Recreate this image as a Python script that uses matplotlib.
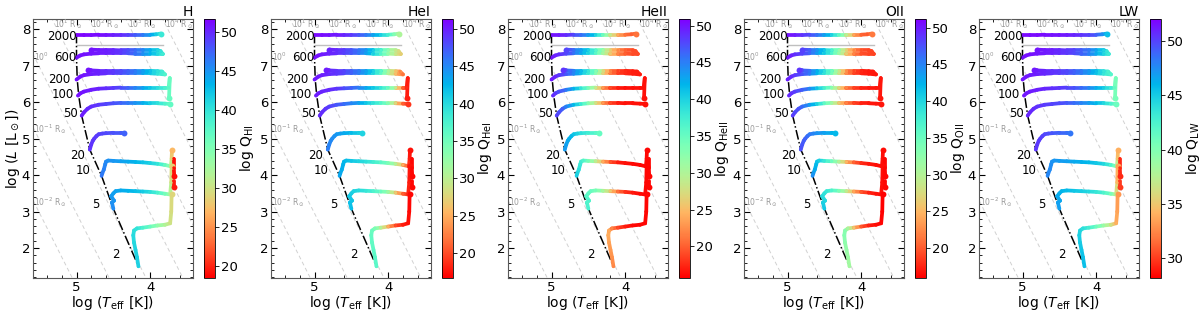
import numpy as np
import matplotlib.pyplot as plt
from matplotlib.collections import LineCollection
from matplotlib.colors import Normalize
from matplotlib.cm import ScalarMappable
from matplotlib.ticker import MultipleLocator

species = ["H", "HeI", "HeII", "OII", "LW"]
cbar_labels = [r"log Q$_{\rm HI}$", r"log Q$_{\rm HeI}$", r"log Q$_{\rm HeII}$",
               r"log Q$_{\rm OII}$", r"log Q$_{\rm LW}$"]
q_limits = [(18.4, 51.7), (16.7, 51.3), (15.7, 50.9), (15.9, 51.2), (28.2, 52.0)]

masses = ["2000", "600", "200", "100", "50", "20", "10", "5", "2"]
mass_label_T = [5.00, 5.00, 5.08, 5.03, 4.98, 4.88, 4.81, 4.69, 4.42]
mass_label_L = [7.80, 7.22, 6.62, 6.22, 5.68, 4.55, 4.12, 3.20, 1.82]

# evolutionary tracks: 2000, 600, 200, 100, 50, 20, 10, 5, 2 Msun, plus two RSG pieces
track_logT = [
    [5.00, 4.90, 4.80, 4.70, 4.60, 4.50, 4.40, 4.30, 4.20, 4.10, 4.00, 3.92, 3.86],
    [5.00, 4.95, 4.90, 4.80, 4.70, 4.60, 4.50, 4.40, 4.30, 4.20, 4.10, 4.00, 3.90, 3.83,
     3.86, 3.90, 4.00, 4.10, 4.20, 4.30, 4.40, 4.50, 4.60, 4.70, 4.80],
    [5.00, 4.95, 4.90, 4.80, 4.70, 4.60, 4.50, 4.40, 4.30, 4.20, 4.10, 4.00, 3.90, 3.80,
     3.84, 3.90, 4.00, 4.10, 4.20, 4.30, 4.40, 4.50, 4.60, 4.70, 4.80, 4.85],
    [4.98, 4.95, 4.90, 4.80, 4.70, 4.60, 4.50, 4.40, 4.30, 4.20, 4.10, 4.00, 3.90, 3.80,
     3.75, 3.735, 3.745],
    [4.93, 4.90, 4.85, 4.80, 4.70, 4.60, 4.50, 4.40, 4.30, 4.20, 4.10, 4.00, 3.90, 3.80, 3.73],
    [4.82, 4.80, 4.78, 4.76, 4.73, 4.70, 4.65, 4.60, 4.50, 4.40, 4.35],
    [4.66, 4.65, 4.63, 4.61, 4.60, 4.57, 4.50, 4.40, 4.30, 4.20, 4.10, 4.00, 3.90, 3.80,
     3.72, 3.71, 3.705],
    [4.50, 4.52, 4.49, 4.53, 4.50, 4.47, 4.40, 4.30, 4.20, 4.10, 4.00, 3.90, 3.80, 3.73,
     3.715, 3.71],
    [4.16, 4.18, 4.20, 4.22, 4.23, 4.22, 4.18, 4.10, 4.00, 3.90, 3.80, 3.73, 3.715, 3.71],
    [3.68, 3.68, 3.675],
    [3.68, 3.68],
]
track_logL = [
    [7.84, 7.84, 7.84, 7.85, 7.85, 7.85, 7.85, 7.85, 7.85, 7.85, 7.85, 7.86, 7.88],
    [7.22, 7.28, 7.31, 7.33, 7.34, 7.34, 7.34, 7.34, 7.34, 7.33, 7.33, 7.33, 7.32, 7.32,
     7.40, 7.42, 7.42, 7.42, 7.42, 7.42, 7.42, 7.43, 7.43, 7.43, 7.44],
    [6.62, 6.70, 6.74, 6.77, 6.78, 6.79, 6.79, 6.79, 6.79, 6.79, 6.79, 6.79, 6.78, 6.76,
     6.84, 6.85, 6.86, 6.86, 6.86, 6.86, 6.86, 6.86, 6.86, 6.86, 6.87, 6.87],
    [6.18, 6.24, 6.29, 6.34, 6.37, 6.38, 6.39, 6.40, 6.40, 6.40, 6.40, 6.40, 6.40, 6.40,
     6.40, 6.66, 6.12],
    [5.63, 5.72, 5.82, 5.88, 5.93, 5.95, 5.97, 5.98, 5.98, 5.98, 5.98, 5.97, 5.97, 5.96, 5.95],
    [4.70, 4.84, 4.94, 5.00, 5.07, 5.12, 5.14, 5.15, 5.16, 5.16, 5.15],
    [3.98, 4.05, 4.15, 4.30, 4.37, 4.40, 4.39, 4.38, 4.37, 4.36, 4.35, 4.33, 4.31, 4.28,
     4.24, 4.45, 4.68],
    [3.08, 3.25, 3.30, 3.42, 3.50, 3.56, 3.58, 3.57, 3.56, 3.55, 3.54, 3.52, 3.49, 3.47,
     3.80, 4.24],
    [1.50, 1.75, 1.95, 2.15, 2.35, 2.48, 2.54, 2.56, 2.59, 2.62, 2.64, 2.68, 3.00, 3.47],
    [4.45, 4.20, 3.98],
    [3.83, 3.68],
]

Q_H = [
    [51.5, 51.5, 51.3, 51.2, 51.0, 50.5, 50.0, 49.0, 48.0, 46.5, 44.5, 42.0, 39.5],
    [51.0, 51.0, 51.0, 50.8, 50.6, 50.3, 50.0, 49.3, 48.3, 47.0, 45.5, 43.5, 41.0, 39.0,
     40.0, 41.0, 43.5, 45.5, 47.0, 48.3, 49.3, 50.0, 50.3, 50.6, 50.8],
    [51.0, 51.0, 50.8, 50.5, 50.2, 49.8, 49.3, 48.5, 47.5, 46.2, 44.5, 42.5, 40.0, 38.0,
     39.0, 40.0, 42.5, 44.5, 46.2, 47.5, 48.5, 49.3, 49.8, 50.2, 50.5, 50.8],
    [51.0, 51.0, 50.8, 50.5, 50.2, 49.8, 49.3, 48.5, 47.5, 46.0, 44.5, 42.5, 40.5, 38.5,
     37.5, 36.5, 36.5],
    [50.5, 50.3, 50.0, 49.8, 49.3, 48.8, 48.2, 47.5, 46.5, 45.3, 43.8, 42.0, 40.3, 38.3, 37.0],
    [49.5, 49.5, 49.4, 49.3, 49.2, 49.0, 48.8, 48.6, 48.2, 47.8, 47.5],
    [46.5, 46.3, 46.0, 45.8, 45.6, 45.3, 45.0, 44.5, 44.0, 43.3, 42.5, 41.5, 40.0, 37.0,
     33.0, 29.0, 27.0],
    [45.5, 45.3, 45.0, 44.8, 44.5, 44.3, 44.0, 43.5, 42.8, 42.0, 40.5, 38.5, 36.0, 33.0,
     30.0, 28.5],
    [41.5, 41.5, 41.3, 41.0, 40.8, 40.5, 40.0, 38.5, 36.5, 34.0, 32.0, 30.0, 29.5, 29.0],
    [19.0, 19.0, 19.0],
    [19.5, 19.5],
]
Q_HeI = [
    [50.8, 50.8, 50.5, 50.2, 49.8, 49.0, 47.5, 46.0, 44.0, 41.0, 38.0, 34.0, 31.0],
    [50.5, 50.5, 50.2, 49.8, 49.3, 48.5, 47.5, 46.0, 44.0, 41.0, 37.0, 33.0, 29.0, 27.0,
     28.0, 29.0, 33.0, 37.0, 41.0, 44.0, 46.0, 47.5, 48.5, 49.3, 49.8],
    [50.2, 50.2, 50.0, 49.5, 49.0, 48.2, 47.0, 45.5, 43.5, 40.5, 36.5, 31.0, 26.0, 22.0,
     23.0, 26.0, 31.0, 36.5, 40.5, 43.5, 45.5, 47.0, 48.2, 49.0, 49.5, 50.0],
    [50.0, 50.0, 49.8, 49.5, 49.0, 48.0, 47.0, 45.5, 43.5, 41.5, 39.0, 36.0, 30.0, 21.0,
     18.5, 18.0, 18.0],
    [49.5, 49.3, 49.0, 48.5, 47.5, 46.5, 45.3, 43.8, 41.5, 39.3, 37.0, 34.0, 28.0, 21.0, 19.0],
    [45.5, 45.3, 45.0, 44.8, 44.5, 44.2, 43.8, 43.3, 42.3, 41.0, 40.5],
    [43.5, 43.3, 43.0, 42.7, 42.5, 42.0, 41.5, 40.5, 39.5, 38.0, 36.5, 34.5, 31.0, 25.0,
     19.0, 18.0, 17.5],
    [42.0, 41.8, 41.5, 41.3, 41.0, 40.5, 40.0, 39.0, 37.5, 35.5, 32.5, 27.0, 21.0, 18.5,
     18.0, 17.5],
    [36.5, 36.5, 36.3, 36.0, 35.8, 35.5, 34.5, 31.0, 25.0, 20.0, 18.0, 17.5, 17.2, 17.0],
    [17.0, 17.0, 17.0],
    [17.0, 17.0],
]
Q_HeII = [
    [50.3, 49.8, 49.0, 47.8, 46.0, 44.0, 40.0, 35.0, 29.0, 24.0, 21.0, 20.0, 21.0],
    [50.0, 49.5, 49.0, 47.8, 45.8, 43.0, 40.0, 36.0, 31.0, 26.0, 22.0, 20.0, 19.0, 19.0,
     19.0, 19.0, 20.0, 22.0, 26.0, 31.0, 36.0, 40.0, 43.0, 45.8, 47.8],
    [49.7, 49.2, 48.5, 47.0, 44.8, 41.5, 38.0, 33.0, 27.0, 21.5, 18.5, 17.5, 17.0, 17.0,
     17.0, 17.0, 17.5, 18.5, 21.5, 27.0, 33.0, 38.0, 41.5, 44.8, 47.0, 48.5],
    [49.0, 48.5, 47.5, 45.5, 42.5, 38.5, 34.0, 29.0, 23.0, 19.0, 17.0, 16.5, 16.5, 16.5,
     16.5, 16.5, 16.5],
    [48.0, 47.5, 46.5, 45.0, 42.0, 38.0, 33.0, 28.0, 23.0, 19.0, 17.0, 16.5, 16.5, 16.5, 16.5],
    [43.5, 43.2, 42.8, 42.4, 41.8, 41.0, 40.0, 39.0, 37.5, 36.0, 35.0],
    [40.5, 40.0, 39.0, 38.0, 37.5, 36.5, 34.0, 29.5, 24.0, 19.5, 17.0, 16.5, 16.2, 16.0,
     16.0, 16.0, 16.0],
    [37.0, 36.5, 36.5, 36.0, 35.5, 35.0, 34.0, 31.0, 26.0, 21.0, 18.0, 16.8, 16.2, 16.0,
     16.0, 16.0],
    [22.0, 22.5, 23.0, 23.5, 24.0, 24.0, 22.0, 19.0, 17.0, 16.2, 16.0, 16.0, 16.0, 16.0],
    [16.0, 16.0, 16.0],
    [16.0, 16.0],
]
Q_OII = [
    [50.5, 50.0, 49.0, 47.8, 46.2, 44.0, 40.5, 36.0, 30.0, 24.0, 20.5, 20.0, 21.5],
    [50.2, 49.8, 49.2, 48.2, 46.7, 44.0, 41.0, 37.0, 32.0, 26.5, 22.0, 19.5, 19.0, 19.0,
     19.0, 19.0, 19.5, 22.0, 26.5, 32.0, 37.0, 41.0, 44.0, 46.7, 48.2],
    [49.8, 49.4, 48.8, 47.5, 45.7, 42.5, 39.0, 34.5, 28.5, 22.5, 19.0, 17.5, 17.0, 17.0,
     17.0, 17.0, 17.5, 19.0, 22.5, 28.5, 34.5, 39.0, 42.5, 45.7, 47.5, 48.8],
    [49.5, 49.0, 48.5, 47.0, 45.0, 41.5, 37.5, 33.0, 27.5, 22.0, 19.0, 17.5, 17.0, 17.0,
     17.0, 17.0, 17.0],
    [48.5, 48.0, 47.5, 46.5, 44.0, 40.5, 36.0, 31.5, 26.5, 22.0, 19.0, 17.5, 17.0, 17.0, 17.0],
    [47.5, 47.3, 47.0, 46.7, 46.2, 45.6, 45.0, 44.4, 43.5, 42.5, 42.0],
    [44.5, 44.0, 43.0, 42.0, 41.5, 40.5, 38.5, 35.0, 30.5, 25.0, 20.5, 18.0, 17.0, 16.5,
     16.5, 16.5, 16.5],
    [41.0, 40.5, 40.0, 39.5, 39.0, 38.5, 37.0, 34.0, 29.5, 24.0, 20.0, 17.5, 16.8, 16.5,
     16.5, 16.5],
    [31.0, 31.5, 32.0, 32.5, 33.0, 33.0, 31.0, 26.0, 20.0, 17.5, 16.5, 16.2, 16.0, 16.0],
    [16.2, 16.2, 16.2],
    [16.2, 16.2],
]
Q_LW = [
    [51.7, 51.7, 51.7, 51.6, 51.5, 51.4, 51.2, 50.9, 50.5, 50.0, 49.2, 47.7, 45.5],
    [51.5, 51.5, 51.5, 51.4, 51.2, 51.0, 50.7, 50.3, 49.8, 49.1, 48.1, 46.6, 44.5, 43.0,
     43.5, 44.5, 46.6, 48.1, 49.1, 49.8, 50.3, 50.7, 51.0, 51.2, 51.4],
    [51.3, 51.3, 51.2, 51.0, 50.8, 50.5, 50.2, 49.7, 49.0, 48.2, 47.0, 45.5, 43.5, 42.0,
     42.5, 43.5, 45.5, 47.0, 48.2, 49.0, 49.7, 50.2, 50.5, 50.8, 51.0, 51.2],
    [51.3, 51.3, 51.2, 51.0, 50.8, 50.6, 50.3, 50.0, 49.5, 48.8, 47.8, 46.5, 45.0, 43.0,
     41.5, 40.5, 40.5],
    [50.8, 50.8, 50.7, 50.5, 50.2, 50.0, 49.7, 49.3, 48.7, 48.0, 47.0, 46.0, 44.5, 42.5, 41.0],
    [50.3, 50.3, 50.2, 50.1, 50.0, 49.8, 49.6, 49.4, 49.0, 48.6, 48.3],
    [47.8, 47.8, 47.6, 47.5, 47.3, 47.2, 47.0, 46.8, 46.5, 46.2, 45.8, 45.2, 44.5, 42.5,
     39.0, 35.0, 34.0],
    [46.8, 46.8, 46.6, 46.5, 46.3, 46.0, 45.7, 45.3, 44.9, 44.3, 43.5, 42.5, 40.5, 37.5,
     34.5, 33.5],
    [45.5, 45.5, 45.3, 45.0, 44.8, 44.5, 44.0, 43.0, 41.0, 39.0, 36.5, 34.0, 33.5, 33.0],
    [29.5, 29.5, 29.5],
    [30.0, 30.0],
]
Q_all = [Q_H, Q_HeI, Q_HeII, Q_OII, Q_LW]

# zero-age main sequence and the unlabelled grey track
zams_logT = [5.00, 5.00, 4.99, 4.97, 4.93, 4.82, 4.66, 4.50, 4.16]
zams_logL = [7.88, 7.22, 6.62, 6.18, 5.63, 4.70, 3.98, 3.08, 1.50]
grey_logT = [5.00, 3.83]
grey_logL = [7.57, 7.57]

radius_exp = [-2, -1, 0, 1, 2, 3, 4]
LOGT_SUN = 3.7617

xlim = (5.59, 3.42)
ylim = (1.18, 8.28)

W, H = 1200, 312
ax_left_px = [33, 271, 508, 744, 979]

fig = plt.figure(figsize=(12, 3.12), dpi=100)
cmap = plt.get_cmap("rainbow_r")

for i, name in enumerate(species):
    x0 = ax_left_px[i] / W
    ax = fig.add_axes([x0, 34 / H, 160 / W, 259 / H])
    cax = fig.add_axes([x0 + 171 / W, 34 / H, 11 / W, 259 / H])
    norm = Normalize(*q_limits[i])

    # constant-radius guide lines
    tline = np.array([6.0, 3.0])
    for e in radius_exp:
        ax.plot(tline, 2 * e + 4 * (tline - LOGT_SUN), ls=(0, (4, 3)),
                color="0.82", lw=0.7, zorder=0)
        if e >= 1:
            tt = LOGT_SUN + (ylim[1] - 2 * e) / 4
            ax.text(tt - 0.03, 8.14, rf"10$^{{{e}}}$ R$_\odot$", fontsize=5.5,
                    color="0.6", ha="left", va="center")
        else:
            ll = 2 * e + 4 * (xlim[0] - LOGT_SUN)
            lab = rf"10$^{{{e}}}$" if e == 0 else rf"10$^{{{e}}}$ R$_\odot$"
            ax.text(xlim[0] - 0.02, ll - 0.06, lab, fontsize=5.5,
                    color="0.6", ha="left", va="center")

    ax.plot(grey_logT, grey_logL, color="0.75", lw=1.0, zorder=1)
    ax.plot(zams_logT, zams_logL, color="k", lw=1.1, ls="-.", zorder=2)

    for T, L, q in zip(track_logT, track_logL, Q_all[i]):
        pts = np.column_stack([T, L])
        segs = np.stack([pts[:-1], pts[1:]], axis=1)
        q = np.asarray(q)
        lc = LineCollection(segs, cmap=cmap, norm=norm, linewidths=2.7,
                            capstyle="round", joinstyle="round", zorder=3)
        lc.set_array(0.5 * (q[:-1] + q[1:]))
        ax.add_collection(lc)
        ax.scatter(T, L, c=q, cmap=cmap, norm=norm, s=5, lw=0, zorder=4)
        ax.scatter(T[-1], L[-1], c=[q[-1]], cmap=cmap, norm=norm, s=18, lw=0, zorder=4)

    for m, tx, ty in zip(masses, mass_label_T, mass_label_L):
        ax.text(tx, ty, m, fontsize=8.5, ha="right", va="center", zorder=5)

    ax.set_xlim(*xlim)
    ax.set_ylim(*ylim)
    ax.xaxis.set_major_locator(MultipleLocator(1))
    ax.xaxis.set_minor_locator(MultipleLocator(0.2))
    ax.yaxis.set_major_locator(MultipleLocator(1))
    ax.yaxis.set_minor_locator(MultipleLocator(0.2))
    ax.tick_params(which="both", direction="in", top=True, right=True,
                   labelsize=9.5, pad=2)
    ax.tick_params(which="major", length=4)
    ax.tick_params(which="minor", length=2)
    for sp in ax.spines.values():
        sp.set_color("0.35")
    ax.set_xlabel(r"log ($T_{\rm eff}$ [K])", fontsize=10, labelpad=0)
    if i == 0:
        ax.set_ylabel(r"log ($L$ [L$_\odot$])", fontsize=10, labelpad=0)
    ax.set_title(name, loc="right", fontsize=10, pad=2)

    cb = fig.colorbar(ScalarMappable(norm=norm, cmap=cmap), cax=cax)
    cb.outline.set_linewidth(0.6)
    cb.ax.tick_params(labelsize=9.5, length=3, width=0.6, pad=1)
    cb.set_label(cbar_labels[i], fontsize=10, labelpad=0)

fig.savefig("out.png", dpi=100)
